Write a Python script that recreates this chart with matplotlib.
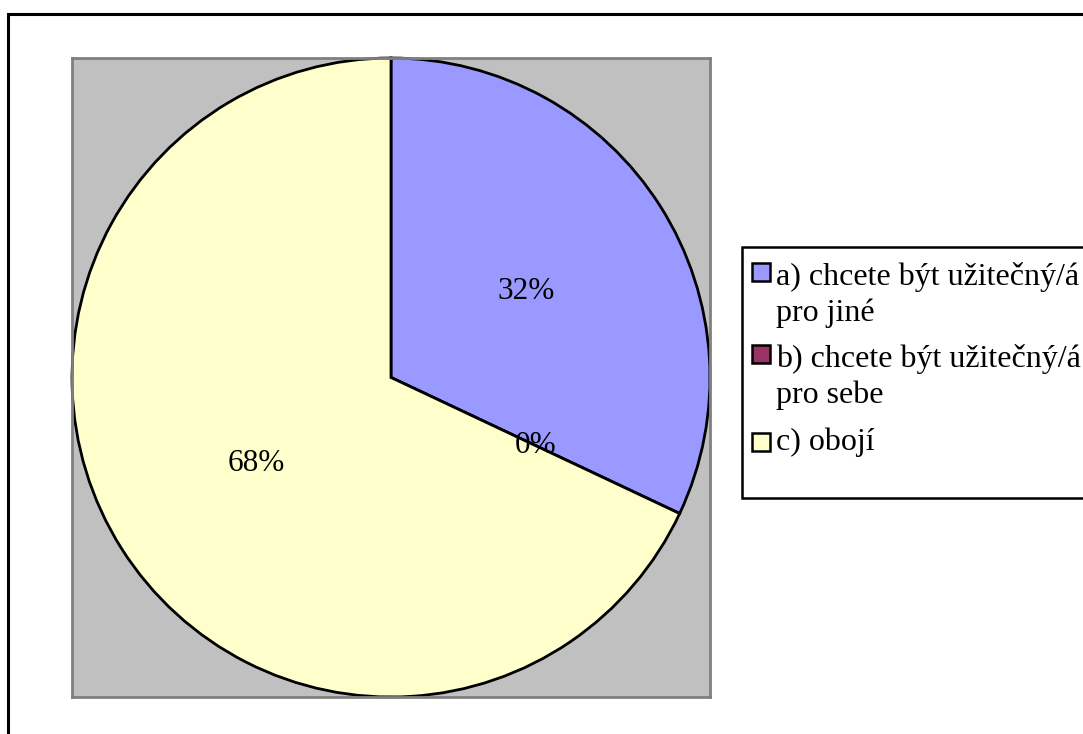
import matplotlib
matplotlib.use("Agg")
import matplotlib.pyplot as plt
from matplotlib.patches import Rectangle

plt.rcParams['font.family'] = ['Liberation Serif', 'DejaVu Serif']

labels = ["a) chcete být užitečný/á\npro jiné",
          "b) chcete být užitečný/á\npro sebe",
          "c) obojí"]
values = [32, 0, 68]
colors = ["#9999FF", "#993366", "#FFFFCC"]

W, H = 1083, 734
fig = plt.figure(figsize=(W / 100, H / 100), dpi=100)

def px(x, y):
    return x / W, 1 - y / H

# outer chart border
fig.patches.append(Rectangle(px(7.5, 760), (1100 - 7.5) / W, (760 - 13.5) / H,
                             transform=fig.transFigure, fill=False,
                             edgecolor="black", linewidth=2.2, clip_on=False))

# plot area
l, b = px(72, 697)
ax = fig.add_axes([l, b, (710 - 72) / W, (697 - 58) / H])
ax.set_facecolor("#C0C0C0")
for s in ax.spines.values():
    s.set_edgecolor("#808080")
    s.set_linewidth(2.0)

wedges, texts, autotexts = ax.pie(
    values, colors=colors, startangle=90, counterclock=False,
    autopct=lambda p: f"{p:.0f}%", pctdistance=0.5,
    wedgeprops=dict(edgecolor="black", linewidth=2.0),
    textprops=dict(fontsize=22.5, color="black"), frame=True)
ax.set_xlim(-1, 1)
ax.set_ylim(-1, 1)
ax.set_aspect("auto")
ax.set_xticks([])
ax.set_yticks([])

# legend box
fig.patches.append(Rectangle(px(742, 498), (1100 - 742) / W, (498 - 247) / H,
                             transform=fig.transFigure, facecolor="white",
                             edgecolor="black", linewidth=1.8, clip_on=False))

sq_tops = [263, 345, 433]
baselines = [285, 367, 450]
line_gap = 36
for lab, col, top, base in zip(labels, colors, sq_tops, baselines):
    x0, y0 = px(752, top + 18)
    fig.patches.append(Rectangle((x0, y0), 18 / W, 18 / H,
                                 transform=fig.transFigure, facecolor=col,
                                 edgecolor="black", linewidth=1.8))
    for i, line in enumerate(lab.split("\n")):
        tx, ty = px(776, base + i * line_gap)
        fig.text(tx, ty, line, fontsize=23, va="baseline", ha="left")

fig.savefig("out.png", dpi=100)
